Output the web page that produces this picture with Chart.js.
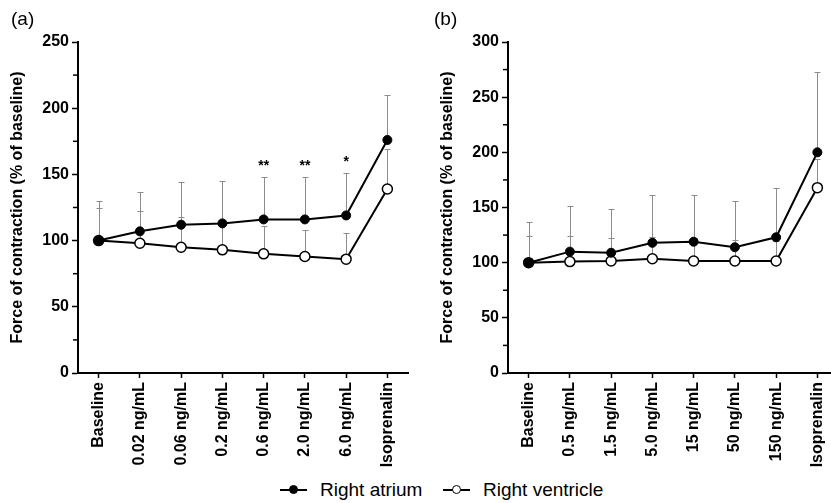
<!DOCTYPE html>
<html>
<head>
<meta charset="utf-8">
<script src="https://cdn.jsdelivr.net/npm/chart.js@4.4.1/dist/chart.umd.min.js"></script>
<style>
body{margin:0;width:831px;height:503px;overflow:hidden;background:#fff;position:relative;font-family:"Liberation Sans",Arial,sans-serif}
.panel{position:absolute;top:0;width:420px;height:475px}
#wrapA{left:0}
#wrapB{left:430px}
.tag{position:absolute;top:8px;font-size:19px;line-height:22px;color:#000}
.legend{position:absolute;top:479px;font-size:19px;line-height:22px;color:#000;white-space:nowrap}
.sym{display:inline-block;position:relative;width:27px;height:2px;background:#000;vertical-align:middle;margin-right:13px;top:-1px}
.sym i{position:absolute;left:9px;top:-4px;width:7px;height:7px;border:1.5px solid #000;border-radius:50%;background:#000}
.sym.open i{background:#fff}
</style>
</head>
<body>
<div class="panel" id="wrapA"><canvas id="chartA" width="420" height="475"></canvas></div>
<div class="panel" id="wrapB"><canvas id="chartB" width="420" height="475"></canvas></div>
<div class="tag" style="left:11px">(a)</div>
<div class="tag" style="left:434px">(b)</div>
<div class="legend" id="leg1" style="left:280px"><span class="sym"><i></i></span><span class="txt"></span></div>
<div class="legend" id="leg2" style="left:443px"><span class="sym open"><i></i></span><span class="txt"></span></div>
<script>
// series names
const seriesNames = ['Right atrium', 'Right ventricle'];

// panel (a)
const labelsA = ['Baseline', '0.02 ng/mL', '0.06 ng/mL', '0.2 ng/mL', '0.6 ng/mL', '2.0 ng/mL', '6.0 ng/mL', 'Isoprenalin'];
const atriumA = [100, 107, 112, 113, 116, 116, 119, 176];
const atriumSdA = [30, 30, 32, 32, 32, 32, 32, 34];
const ventricleA = [100, 98, 95, 93, 90, 88, 86, 139];
const ventricleSdA = [25, 24, 23, 20, 21, 20, 20, 30];
const starsA = ['', '', '', '', '**', '**', '*', ''];

// panel (b)
const labelsB = ['Baseline', '0.5 ng/mL', '1.5 ng/mL', '5.0 ng/mL', '15 ng/mL', '50 ng/mL', '150 ng/mL', 'Isoprenalin'];
const atriumB = [100, 110, 109, 118, 119, 114, 123, 200];
const atriumSdB = [37, 41, 40, 43, 42, 42, 45, 73];
const ventricleB = [100, 101, 101.5, 103.5, 101.5, 101.5, 101.5, 168];
const ventricleSdB = [24, 23, 21, 20, 21, 19, 18, 26];
const starsB = ['', '', '', '', '', '', '', ''];

const yTitle = 'Force of contraction (% of baseline)';
const fontFam = '"Liberation Sans", Arial, sans-serif';

document.querySelector('#leg1 .txt').textContent = seriesNames[0];
document.querySelector('#leg2 .txt').textContent = seriesNames[1];

// upper SD bars, drawn behind the lines
const errorBars = {
	id: 'errorBars',
	beforeDatasetsDraw(chart, args, opts) {
		const ctx = chart.ctx;
		const xs = chart.scales.x, ys = chart.scales.y;
		ctx.save();
		ctx.strokeStyle = '#8c8c8c';
		ctx.lineWidth = 1;
		chart.data.datasets.forEach(function(ds, d){
			let sd = opts.sd[d];
			for(var i = 0; i < ds.data.length; i++){
				let px = Math.round(xs.getPixelForValue(i)) + 0.5;
				let p0 = ys.getPixelForValue(ds.data[i]);
				let p1 = Math.round(ys.getPixelForValue(ds.data[i] + sd[i])) + 0.5;
				ctx.beginPath();
				ctx.moveTo(px, p0);
				ctx.lineTo(px, p1);
				ctx.moveTo(px - 3, p1);
				ctx.lineTo(px + 3, p1);
				ctx.stroke();
			}
		});
		ctx.restore();
	}
};

// asterisks above the atrium bars
const stars = {
	id: 'stars',
	afterDatasetsDraw(chart, args, opts) {
		const ctx = chart.ctx;
		const xs = chart.scales.x, ys = chart.scales.y;
		const ds = chart.data.datasets[0];
		ctx.save();
		ctx.fillStyle = '#000';
		ctx.font = 'bold 14px ' + fontFam;
		ctx.textAlign = 'center';
		ctx.textBaseline = 'middle';
		opts.marks.forEach(function(m, i){
			if(m == '') return;
			let px = xs.getPixelForValue(i);
			let py = ys.getPixelForValue(ds.data[i] + opts.sd[i]) - 11;
			ctx.fillText(m, px, py);
		});
		ctx.restore();
	}
};

// short minor ticks on the y axis
const minorTicks = {
	id: 'minorTicks',
	afterDraw(chart) {
		const ctx = chart.ctx;
		const ys = chart.scales.y;
		const left = chart.chartArea.left - 1;
		ctx.save();
		ctx.strokeStyle = '#000';
		ctx.lineWidth = 1.5;
		ys.ticks.forEach(function(t){
			if(t.value % 50 == 0) return;
			let py = ys.getPixelForValue(t.value);
			ctx.beginPath();
			ctx.moveTo(left - 4, py);
			ctx.lineTo(left, py);
			ctx.stroke();
		});
		ctx.restore();
	}
};

function makeChart(id, labels, ra, raSd, rv, rvSd, marks, yMax){
	const data = {
		labels: labels,
		datasets: [{
			label: seriesNames[0],
			data: ra,
			borderColor: '#000',
			borderWidth: 2,
			backgroundColor: '#000',
			pointRadius: 4.5,
			pointBackgroundColor: '#000',
			pointBorderColor: '#000',
			pointBorderWidth: 1,
			tension: 0
		}, {
			label: seriesNames[1],
			data: rv,
			borderColor: '#000',
			borderWidth: 2,
			backgroundColor: '#fff',
			pointRadius: 5,
			pointBackgroundColor: '#fff',
			pointBorderColor: '#000',
			pointBorderWidth: 1.5,
			tension: 0
		}]
	};
	const config = {
		type: 'line',
		data: data,
		options: {
			responsive: false,
			animation: false,
			layout: { padding: { top: 42, right: 12, left: 0, bottom: 0 } },
			plugins: {
				legend: { display: false },
				tooltip: { enabled: false },
				errorBars: { sd: [raSd, rvSd] },
				stars: { marks: marks, sd: raSd }
			},
			scales: {
				x: {
					offset: true,
					border: { color: '#000', width: 2 },
					grid: { drawOnChartArea: false, offset: false, tickLength: 5, tickWidth: 1.5, tickColor: '#000' },
					ticks: { color: '#000', autoSkip: false, minRotation: 90, maxRotation: 90, padding: 4,
						font: { family: fontFam, size: 16, weight: 'bold' } },
					afterFit: function(s){ s.height = 102; }
				},
				y: {
					min: 0,
					max: yMax,
					border: { color: '#000', width: 2 },
					grid: { drawOnChartArea: false, tickLength: 6, tickWidth: 1.5,
						tickColor: function(c){ return c.tick.value % 50 == 0 ? '#000' : 'rgba(0,0,0,0)'; } },
					ticks: { stepSize: 25, autoSkip: false, color: '#000', padding: 3,
						font: { family: fontFam, size: 16, weight: 'bold' },
						callback: function(v){ return v % 50 == 0 ? v : ''; } },
					title: { display: true, text: yTitle, color: '#000', padding: { top: 8, bottom: 0 },
						font: { family: fontFam, size: 16, weight: 'bold' } },
					afterFit: function(s){ s.width = 78; }
				}
			}
		},
		plugins: [errorBars, stars, minorTicks]
	};
	return new Chart(document.getElementById(id), config);
}

makeChart('chartA', labelsA, atriumA, atriumSdA, ventricleA, ventricleSdA, starsA, 250);
makeChart('chartB', labelsB, atriumB, atriumSdB, ventricleB, ventricleSdB, starsB, 300);
</script>
</body>
</html>
